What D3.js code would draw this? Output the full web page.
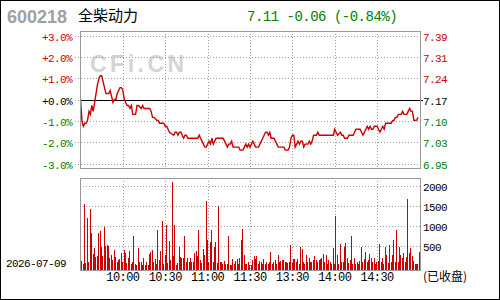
<!DOCTYPE html>
<html>
<head>
<meta charset="utf-8">
<script src="https://cdn.jsdelivr.net/npm/d3@7"></script>
<style>
  body { margin: 0; background: #fff; }
  svg text { font-family: "Liberation Mono", "DejaVu Sans Mono", monospace; }
</style>
</head>
<body>
<div id="chart"></div>
<script>
// stock header
const stockCode = "600218";
const stockName = "全柴动力";
const lastPrice = 7.11;
const preClose = 7.17;
const tradeDate = "2026-07-09";

// axis levels + labels
const pctLevels = [3, 2, 1, 0, -1, -2, -3];
const pctLabels = ["+3.0%", "+2.0%", "+1.0%", "+0.0%", "-1.0%", "-2.0%", "-3.0%"];
const priceLabels = ["7.39", "7.31", "7.24", "7.17", "7.10", "7.03", "6.95"];
const timeTicks = [30, 60, 90, 120, 150, 180, 210];
const timeLabels = ["10:00", "10:30", "11:00", "11:30", "13:30", "14:00", "14:30"];
const volTicks = [500, 1000, 1500, 2000];

// [minute index, price]
const pricePoints = [
  [0,7.17],[1,7.10],[2,7.08],[3,7.09],[4,7.09],[5,7.10],[6,7.13],[7,7.12],[8,7.15],[9,7.13],
  [10,7.16],[11,7.19],[12,7.22],[13,7.24],[14,7.25],[15,7.25],[16,7.23],[17,7.21],[18,7.19],[20,7.19],
  [21,7.20],[22,7.18],[23,7.16],[24,7.17],[25,7.17],[26,7.19],[27,7.20],[28,7.21],[29,7.21],[30,7.20],
  [31,7.17],[32,7.16],[33,7.15],[34,7.15],[35,7.14],[36,7.15],[37,7.12],[39,7.12],[40,7.15],[41,7.15],
  [43,7.14],[44,7.15],[45,7.14],[49,7.14],[50,7.13],[51,7.11],[52,7.11],[54,7.10],[55,7.10],[56,7.09],
  [58,7.09],[59,7.09],[60,7.08],[61,7.08],[62,7.07],[63,7.06],[66,7.05],[67,7.06],[68,7.06],[69,7.05],
  [70,7.06],[71,7.06],[72,7.05],[73,7.04],[74,7.05],[75,7.05],[76,7.04],[83,7.04],[84,7.05],[85,7.04],
  [86,7.03],[87,7.02],[88,7.01],[89,7.01],[90,7.02],[91,7.03],[92,7.02],[93,7.04],[94,7.02],[95,7.03],
  [96,7.04],[97,7.04],[101,7.04],[102,7.03],[103,7.02],[104,7.01],[105,7.02],[106,7.02],[107,7.03],[108,7.01],
  [112,7.01],[113,7.00],[115,7.00],[116,7.01],[117,7.02],[118,7.01],[119,7.02],[120,7.01],[121,7.02],[122,7.03],
  [123,7.02],[124,7.01],[126,7.01],[127,7.02],[128,7.03],[129,7.04],[130,7.05],[131,7.06],[132,7.06],[133,7.05],
  [134,7.06],[135,7.04],[137,7.04],[138,7.03],[139,7.02],[140,7.01],[144,7.01],[145,7.00],[147,7.00],[148,7.01],
  [149,7.04],[150,7.05],[151,7.05],[152,7.01],[153,7.02],[154,7.03],[155,7.02],[156,7.03],[157,7.03],[158,7.01],
  [159,7.02],[160,7.02],[161,7.02],[162,7.03],[163,7.02],[164,7.03],[165,7.05],[167,7.05],[168,7.06],[169,7.05],
  [171,7.05],[179,7.05],[180,7.07],[181,7.06],[182,7.05],[184,7.06],[185,7.05],[186,7.05],[187,7.04],[189,7.04],
  [190,7.05],[193,7.05],[194,7.06],[195,7.07],[198,7.07],[199,7.06],[200,7.05],[201,7.06],[202,7.07],[203,7.08],
  [204,7.07],[205,7.08],[206,7.07],[207,7.07],[208,7.08],[210,7.08],[211,7.07],[212,7.06],[213,7.07],[214,7.08],
  [215,7.07],[216,7.09],[220,7.09],[221,7.10],[222,7.10],[223,7.11],[224,7.11],[225,7.12],[227,7.12],[228,7.13],
  [229,7.12],[231,7.12],[232,7.13],[233,7.14],[234,7.13],[235,7.13],[236,7.10],[238,7.10],[239,7.11]
];

// volume per minute (lots)
const volumes = [
  117,40,1533,60,1200,100,1417,808,292,433, 225,250,808,867,467,250,967,500,517,500,
  200,267,133,392,217,100,142,167,317,83, 383,317,58,183,367,50,83,742,30,15,
  450,83,83,17,200,17,83,17,292,350, 392,83,167,40,892,142,367,1117,33,267,
  1017,58,617,142,2100,250,1017,17,58,475, 217,183,200,742,83,200,83,183,83,83,
  300,367,250,892,142,58,417,267,1617,642, 83,600,892,83,475,600,58,1492,83,83,
  33,117,33,50,742,17,17,167,33,117, 167,33,200,642,917,267,33,33,83,17,
  17,142,233,167,233,33,117,83,33,167, 33,100,33,83,333,33,83,142,33,267,
  83,117,142,142,83,83,58,83,517,58, 167,167,83,167,33,475,417,83,33,267,
  83,200,83,83,142,233,142,83,142,167, 200,283,83,267,33,142,83,33,450,33,
  1242,267,33,533,83,83,475,567,183,58, 142,742,33,200,33,83,33,117,475,83,
  167,333,83,142,283,200,83,200,33,83, 117,533,83,200,33,475,267,58,517,83,
  267,642,83,892,83,475,267,200,308,83, 225,1667,300,450,250,117,33,33,33,350
];

const W = 500, H = 300;
const red = "#cc0000", green = "#008000", grid = "#a0a0a0";
const box = {left: 80, right: 420, top: 31, bottom: 168};
const vbox = {left: 80, right: 420, top: 178, bottom: 270};

const svg = d3.select("#chart").append("svg")
    .attr("width", W)
    .attr("height", H);

svg.append("rect")
    .attr("x", 0.5).attr("y", 0.5)
    .attr("width", W - 1).attr("height", H - 1)
    .attr("fill", "#fff").attr("stroke", "#000");

// scales
const x = d3.scaleLinear().domain([0, 240]).range([box.left + 0.5, box.right - 0.5]);
const y = d3.scaleLinear()
    .domain([preClose * 0.97, preClose * 1.03])
    .range([163.5, 35.5]);
const yVol = d3.scaleLinear().domain([0, 2000]).range([265.5, 185.5]);

// header
const change = lastPrice - preClose;
const changePct = change / preClose * 100;
svg.append("text")
    .attr("x", 7).attr("y", 23)
    .style("font-family", "Liberation Sans, Arial, sans-serif")
    .style("font-weight", "bold")
    .style("font-size", "18px")
    .attr("fill", "#a0a0a0")
    .text(stockCode);
svg.append("text")
    .attr("x", 78).attr("y", 21)
    .style("font-family", "Noto Sans CJK SC, sans-serif")
    .style("font-size", "15px")
    .attr("fill", "#000")
    .text(stockName);
svg.append("text")
    .attr("x", 247).attr("y", 21)
    .style("font-size", "14px")
    .style("letter-spacing", "-0.5px")
    .attr("fill", change < 0 ? green : red)
    .text(`${lastPrice.toFixed(2)} ${change.toFixed(2)} (${changePct.toFixed(2)}%)`);

// watermark
svg.append("text")
    .attr("x", 90).attr("y", 72)
    .style("font-family", "Liberation Sans, Arial, sans-serif")
    .style("font-weight", "bold")
    .style("font-size", "23px")
    .style("letter-spacing", "3.5px")
    .attr("fill", "#d4d4d4")
    .text("CFi.CN");

const levelColor = p => p > 0 ? red : (p < 0 ? green : "#000");

// price grid
const hGrid = svg.append("g");
pctLevels.forEach((p, i) => {
    let yy = Math.round(y(preClose * (1 + p / 100))) + 0.5;
    if (p === 0) {
        hGrid.append("line")
            .attr("x1", 75).attr("x2", box.left)
            .attr("y1", yy).attr("y2", yy)
            .attr("stroke", grid).attr("stroke-dasharray", "1,2");
    } else {
        hGrid.append("line")
            .attr("x1", 75).attr("x2", box.right)
            .attr("y1", yy).attr("y2", yy)
            .attr("stroke", grid).attr("stroke-dasharray", "1,2");
    }
    svg.append("text")
        .attr("x", 72).attr("y", yy + 4)
        .attr("text-anchor", "end")
        .style("font-size", "11px")
        .style("letter-spacing", "-0.6px")
        .attr("fill", levelColor(p))
        .text(pctLabels[i]);
    svg.append("text")
        .attr("x", 423).attr("y", yy + 4)
        .style("font-size", "11px")
        .style("letter-spacing", "-0.6px")
        .attr("fill", levelColor(p))
        .text(priceLabels[i]);
});

// vertical grid (both panels)
timeTicks.forEach(t => {
    let xx = Math.round(x(t)) + 0.5;
    svg.append("line")
        .attr("x1", xx).attr("x2", xx)
        .attr("y1", box.top).attr("y2", box.bottom)
        .attr("stroke", grid).attr("stroke-dasharray", "1,2");
    svg.append("line")
        .attr("x1", xx).attr("x2", xx)
        .attr("y1", vbox.top).attr("y2", vbox.bottom)
        .attr("stroke", grid).attr("stroke-dasharray", "1,2");
});

// volume grid + labels
volTicks.forEach(v => {
    let yy = Math.round(yVol(v)) + 0.5;
    svg.append("line")
        .attr("x1", vbox.left).attr("x2", vbox.right)
        .attr("y1", yy).attr("y2", yy)
        .attr("stroke", grid).attr("stroke-dasharray", "1,2");
    svg.append("text")
        .attr("x", 423).attr("y", yy + 4)
        .style("font-size", "11px")
        .style("letter-spacing", "-0.6px")
        .attr("fill", "#000")
        .text(v);
});

// pre-close line
let y0 = Math.round(y(preClose)) + 0.5;
svg.append("line")
    .attr("x1", box.left).attr("x2", 423)
    .attr("y1", y0).attr("y2", y0)
    .attr("stroke", "#000").attr("stroke-width", 1.2);

// price line
const line = d3.line()
    .x(d => x(d[0]))
    .y(d => y(d[1]));
svg.append("path")
    .datum(pricePoints)
    .attr("d", line)
    .attr("fill", "none")
    .attr("stroke", red)
    .attr("stroke-width", 1.4)
    .attr("stroke-linejoin", "miter");

// volume bars
svg.selectAll(".vol")
    .data(volumes)
    .enter().append("rect")
    .attr("class", "vol")
    .attr("x", (d, i) => Math.round(x(i + 0.5)))
    .attr("width", 1)
    .attr("y", d => Math.round(yVol(d)))
    .attr("height", d => vbox.bottom - Math.round(yVol(d)))
    .attr("fill", red);

// panel frames
[box, vbox].forEach(b => {
    svg.append("rect")
        .attr("x", b.left + 0.5).attr("y", b.top + 0.5)
        .attr("width", b.right - b.left).attr("height", b.bottom - b.top)
        .attr("fill", "none")
        .attr("stroke", "#999");
});

// time labels
timeLabels.forEach((t, i) => {
    svg.append("text")
        .attr("x", x(timeTicks[i])).attr("y", 281)
        .attr("text-anchor", "middle")
        .style("font-size", "12px")
        .style("letter-spacing", "-0.6px")
        .attr("fill", "#000")
        .text(t);
});

svg.append("text")
    .attr("x", 6).attr("y", 267)
    .style("font-size", "11px")
    .style("letter-spacing", "-0.6px")
    .attr("fill", "#000")
    .text(tradeDate);

svg.append("text")
    .attr("x", 423).attr("y", 281)
    .style("font-family", "Noto Sans CJK SC, sans-serif")
    .style("font-size", "12px")
    .attr("fill", "#000")
    .text("(已收盘)");
</script>
</body>
</html>
